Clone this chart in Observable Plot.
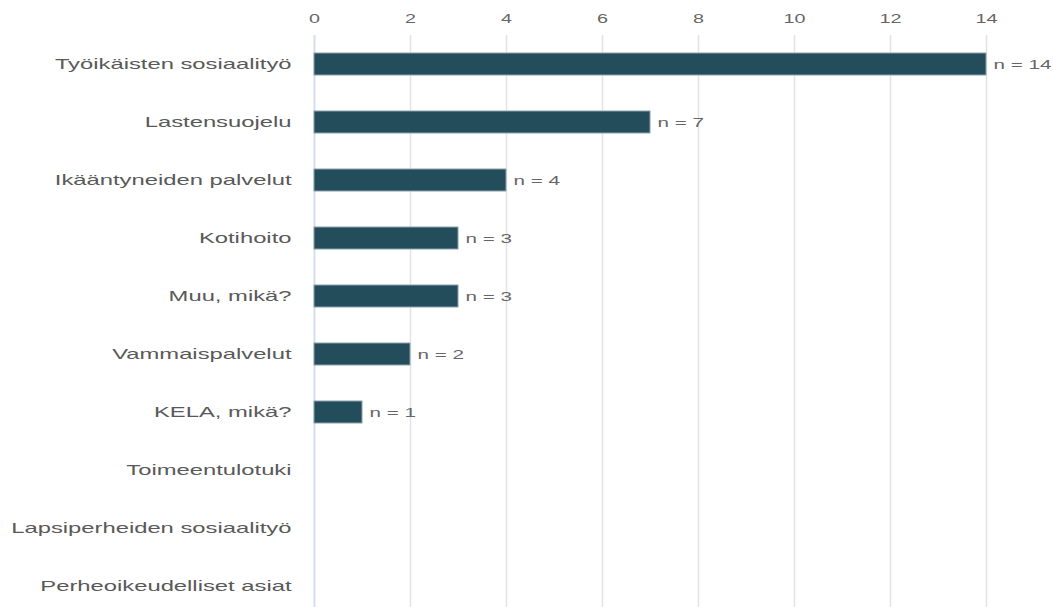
<!DOCTYPE html>
<html>
<head>
<meta charset="utf-8">
<script src="https://cdn.jsdelivr.net/npm/d3@7"></script>
<script src="https://cdn.jsdelivr.net/npm/@observablehq/plot@0.6"></script>
<style>
  html, body { margin: 0; padding: 0; background: #fff; }
  #chart svg { display: block; }
</style>
</head>
<body>
<div id="chart"></div>
<script>
// Palvelut, joihin vastaajat olivat yhteydessä (lukumäärät)
const categories = [
  "Työikäisten sosiaalityö",
  "Lastensuojelu",
  "Ikääntyneiden palvelut",
  "Kotihoito",
  "Muu, mikä?",
  "Vammaispalvelut",
  "KELA, mikä?",
  "Toimeentulotuki",
  "Lapsiperheiden sosiaalityö",
  "Perheoikeudelliset asiat"
];
const counts = [14, 7, 4, 3, 3, 2, 1, 0, 0, 0];
const xTicks = [0, 2, 4, 6, 8, 10, 12, 14];

const rows = categories.map((name, i) => ({name, n: counts[i]}));
const labelled = rows.filter(d => d.n > 0);

const font = "'Liberation Sans', Arial, sans-serif";

const chart = Plot.plot({
  width: 1053,
  height: 607,
  marginTop: 35,
  marginBottom: 0,
  marginLeft: 314,
  marginRight: 67,
  style: {fontFamily: font, background: "#fff"},
  x: {
    domain: [0, 14],
    ticks: xTicks,
    axis: null
  },
  y: {
    domain: categories,
    range: [35, 615],
    paddingInner: 0.62,
    paddingOuter: 0.31,
    axis: null
  },
  marks: [
    Plot.gridX(xTicks.filter(t => t > 0), {stroke: "#e4e4e4", strokeOpacity: 1, strokeWidth: 1.5}),
    Plot.ruleX([0], {stroke: "#d6deec", strokeWidth: 2}),
    Plot.axisX({
      anchor: "top",
      ticks: xTicks,
      tickSize: 0,
      tickPadding: 13,
      fontSize: 12,
      fill: "#666",
      label: null,
      className: "tick-x"
    }),
    Plot.axisY({
      anchor: "left",
      tickSize: 0,
      tickPadding: 23,
      fontSize: 14.5,
      fill: "#595959",
      label: null,
      className: "tick-y"
    }),
    Plot.barX(rows, {
      x: "n",
      y: "name",
      fill: "#234d5a",
      stroke: "#8ea2aa",
      strokeWidth: 1
    }),
    Plot.text(labelled, {
      x: "n",
      y: "name",
      text: d => `n = ${d.n}`,
      textAnchor: "start",
      dx: 7,
      dy: 1,
      fontSize: 12,
      fill: "#666",
      className: "n-label"
    })
  ]
});

document.getElementById("chart").appendChild(chart);

// The labels are set in a wide face: widen each glyph run horizontally.
const widen = [
  [".tick-x text", 1.65],
  [".tick-y text", 1.64],
  [".n-label text", 1.72]
];
for (const [sel, k] of widen) {
  chart.querySelectorAll(sel).forEach(t => {
    const w = t.getComputedTextLength();
    t.setAttribute("textLength", (w * k).toFixed(1));
    t.setAttribute("lengthAdjust", "spacingAndGlyphs");
  });
}
</script>
</body>
</html>
